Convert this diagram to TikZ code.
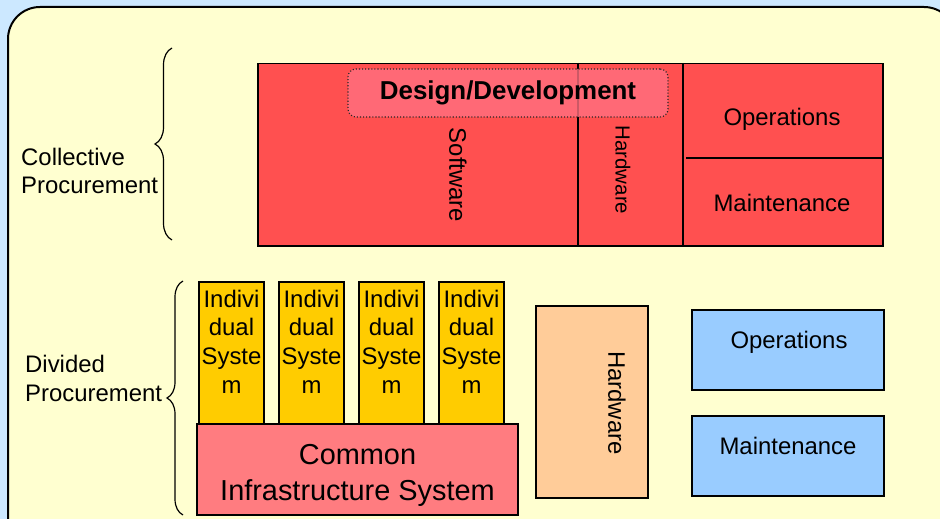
\documentclass[tikz,border=0pt]{standalone}
\usepackage{fontspec}
\setmainfont{Liberation Sans}
\usepackage{xcolor}
\usetikzlibrary{decorations.pathreplacing}

\definecolor{slideblue}{RGB}{204,232,255}
\definecolor{panelyellow}{RGB}{255,255,208}
\definecolor{procred}{RGB}{255,80,80}
\definecolor{designpink}{RGB}{255,112,128}
\definecolor{infrapink}{RGB}{255,124,128}
\definecolor{sysyellow}{RGB}{255,204,0}
\definecolor{hworange}{RGB}{255,204,153}
\definecolor{opsblue}{RGB}{153,204,255}

\tikzset{
    box/.style={draw=black, line width=1.5bp, inner sep=0pt},
    txt/.style={font=\fontsize{24}{28.8}\selectfont, inner sep=0pt, align=center},
    curly/.style={decorate, decoration={brace, amplitude=#1}, line width=1.2bp},
}

\begin{document}
\begin{tikzpicture}[x=1bp, y=-1bp]
    % Nền trang chiếu
    \clip (0,0) rectangle (940,519);
    \fill[slideblue] (0,0) rectangle (940,519);
    \draw[fill=panelyellow, line width=2bp, rounded corners=32bp] (8,7) rectangle (956,560);

    % Khối mua sắm tập trung
    \node[box, fill=procred, minimum width=625bp, minimum height=182bp, anchor=north west] (collect) at (257,63) {};
    \draw[line width=1.5bp] (578,0 |- collect.north) -- (578,0 |- collect.south);
    \draw[line width=1.5bp] (683,0 |- collect.north) -- (683,0 |- collect.south);
    \draw[line width=1.5bp] (686,158) -- (884,158);
    \node[draw=black!85, dotted, line width=1.1bp, rounded corners=8bp, fill=designpink, fill opacity=0.8, text opacity=1,
          minimum width=320bp, minimum height=48bp, font=\fontsize{26}{30}\selectfont\bfseries] (design) at (508,93) {Design/Development};
    \node[txt, rotate=-90] (sw) at (458,175) {Software};
    \node[txt, rotate=-90, font=\fontsize{20.5}{24}\selectfont] (hwtop) at (623,170) {Hardware};
    \node[txt, anchor=base] (opstop) at (782,126) {Operations};
    \node[txt, anchor=base] (mainttop) at (782,212) {Maintenance};

    % Khối mua sắm phân chia
    \foreach \i/\xc in {1/231.5, 2/311.5, 3/391.5, 4/471.5} {
        \node[box, fill=sysyellow, minimum width=65bp, minimum height=142bp] (sys\i) at (\xc,353) {};
        \node[txt, anchor=north] (syslbl\i) at (\xc,289.5) {Indivi\\dual\\Syste\\m};
    }
    \node[box, fill=infrapink, minimum width=321bp, minimum height=91bp] (infra) at (357.5,469.5) {};
    \node[txt, anchor=north, font=\fontsize{29}{36}\selectfont] (infralbl) at (357.5,444) {Common\\Infrastructure System};
    \node[box, fill=hworange, minimum width=112bp, minimum height=192bp] (hw) at (592,402) {};
    \node[txt, rotate=-90] (hwlbl) at (617,403) {Hardware};
    \node[box, fill=opsblue, minimum width=192bp, minimum height=80bp] (ops) at (788,350) {};
    \node[txt, anchor=base] (opslbl) at (789,349) {Operations};
    \node[box, fill=opsblue, minimum width=192bp, minimum height=80bp] (maint) at (788,456) {};
    \node[txt, anchor=base] (maintlbl) at (788,454) {Maintenance};

    % Ngoặc nhọn và nhãn
    \draw[curly=17bp] (172,240) -- (172,48);
    \draw[curly=16bp] (183,515) -- (183,281);
    \node[txt, align=left, anchor=north west] (collectlbl) at (21,147.5) {Collective\\Procurement};
    \node[txt, align=left, anchor=north west] (dividedlbl) at (25,355) {Divided\\Procurement};
\end{tikzpicture}
\end{document}
